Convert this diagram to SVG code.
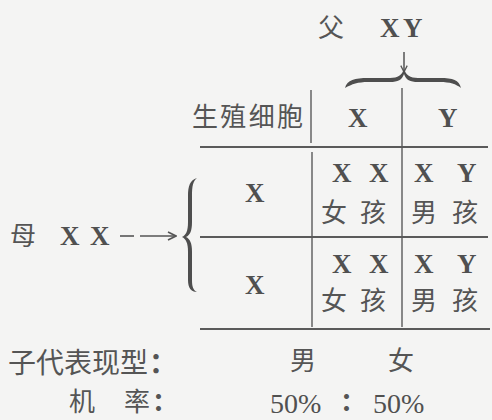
<svg xmlns="http://www.w3.org/2000/svg" width="492" height="420" viewBox="0 0 492 420">
<style>
.x{font-family:"Liberation Serif",serif;font-weight:bold;font-size:27px;fill:#505050}
.c{font-family:"Noto Sans CJK SC","Noto Sans",sans-serif;font-size:26px;fill:#555}
.n{font-family:"Liberation Serif",serif;font-size:28px;fill:#505050}
.ln{stroke:#5a5a5a;stroke-width:2;fill:none}
.vl{stroke:#5a5a5a;stroke-width:1.4;fill:none}
</style>
<defs>
<marker id="ah" viewBox="0 0 10 10" refX="9" refY="5" markerWidth="8" markerHeight="8" markerUnits="userSpaceOnUse" orient="auto">
<path d="M1,1 L9,5 L1,9" fill="none" stroke="#555" stroke-width="1.6"/>
</marker>
<marker id="ah2" viewBox="0 0 10 10" refX="9" refY="5" markerWidth="10" markerHeight="10" markerUnits="userSpaceOnUse" orient="auto">
<path d="M1,1 L9,5 L1,9" fill="none" stroke="#555" stroke-width="1.6"/>
</marker>
</defs>
<rect width="492" height="420" fill="#f4f4f3"/>

<g id="father">
<text class="c" x="318" y="37">父</text>
<text class="x" x="380" y="37">X</text>
<text class="x" x="403" y="37">Y</text>
</g>

<g id="mother">
<text class="c" x="10" y="245">母</text>
<text class="x" x="60" y="245">X</text>
<text class="x" x="90" y="245">X</text>
</g>

<g id="table-grid">
<line class="ln" x1="200" y1="147" x2="488" y2="147"/>
<line class="ln" x1="200" y1="237" x2="488" y2="237"/>
<line class="ln" x1="200" y1="329" x2="490" y2="329"/>
<line class="vl" x1="311" y1="90" x2="311" y2="143"/>
<line class="vl" x1="312" y1="152" x2="312" y2="327"/>
<line class="vl" x1="402" y1="88" x2="402" y2="327"/>
</g>

<g id="header">
<text class="c" x="192" y="126" textLength="111">生殖细胞</text>
<text class="x" x="348" y="127">X</text>
<text class="x" x="438" y="127">Y</text>
</g>

<g id="row1-gamete"><text class="x" x="245" y="202">X</text></g>
<g id="cell-XX-1">
<text class="x" x="332" y="182">X</text><text class="x" x="369" y="182">X</text>
<text class="c" x="321" y="222">女</text><text class="c" x="360" y="222">孩</text>
</g>
<g id="cell-XY-1">
<text class="x" x="414" y="182">X</text><text class="x" x="457" y="182">Y</text>
<text class="c" x="411" y="222">男</text><text class="c" x="452" y="222">孩</text>
</g>

<g id="row2-gamete"><text class="x" x="245" y="294">X</text></g>
<g id="cell-XX-2">
<text class="x" x="332" y="273">X</text><text class="x" x="369" y="273">X</text>
<text class="c" x="321" y="310">女</text><text class="c" x="360" y="310">孩</text>
</g>
<g id="cell-XY-2">
<text class="x" x="414" y="273">X</text><text class="x" x="457" y="273">Y</text>
<text class="c" x="411" y="310">男</text><text class="c" x="452" y="310">孩</text>
</g>

<g id="phenotype">
<text class="c" x="8" y="373" style="font-size:28px">子代表现型</text>
<text class="c" x="149" y="373" style="font-size:28px;font-weight:bold">：</text>
<text class="c" x="290" y="370">男</text>
<text class="c" x="388" y="370">女</text>
</g>

<g id="probability">
<text class="c" x="69" y="411">机</text>
<text class="c" x="124" y="411">率</text>
<text class="c" x="152" y="411" style="font-weight:bold">：</text>
<text class="n" x="270" y="413">50%</text>
<text class="c" x="340" y="411" style="font-weight:bold">：</text>
<text class="n" x="373" y="413">50%</text>
</g>

<g id="connectors">
<line x1="404" y1="52" x2="404" y2="72" stroke="#555" stroke-width="1.5" marker-end="url(#ah)"/>
<path d="M345,88 C347,80 355,78 368,78 L390,78 C398,78 402,75 404,69 C406,75 410,78 418,78 L440,78 C453,78 459,80 461,88 C456,84 450,82 440,82 L418,82 C410,82 406,80 404,74 C402,80 398,82 390,82 L368,82 C358,82 352,84 345,88 Z" fill="#4e4e4e"/>
<line x1="120" y1="236" x2="134" y2="236" stroke="#555" stroke-width="1.6"/>
<line x1="140" y1="236" x2="176" y2="236" stroke="#555" stroke-width="1.6" marker-end="url(#ah2)"/>
<path d="M197,178 C190,180 188,186 188,196 L188,222 C188,231 186,235 182,237 C186,239 188,243 188,252 L188,280 C188,288 191,292 197,292 C193,290 192,286 192,280 L192,252 C192,243 190,239 186,237 C190,235 192,231 192,222 L192,196 C192,186 193,181 197,178 Z" fill="#4e4e4e"/>
</g>
</svg>
